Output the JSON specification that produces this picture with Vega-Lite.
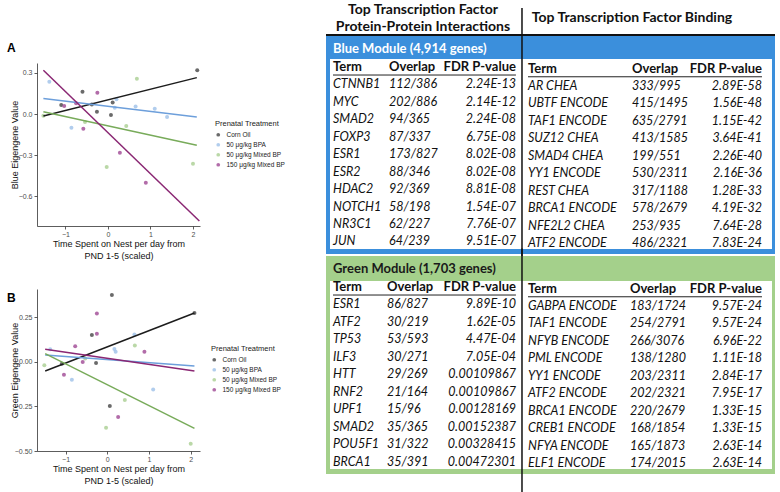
{
"$schema":"https://vega.github.io/schema/vega-lite/v6.json",
"background":"white",
"padding":{"left":7,"top":2,"right":4,"bottom":0},
"columns":2,
"spacing":{"row":63,"column":126},
"bounds":"flush",
"align":"each",
"resolve":{"scale":{"color":"independent"}},
"datasets":{
"ptsA":[
{"treatment":"Corn Oil","x":2.1,"y":0.32},{"treatment":"Corn Oil","x":-0.6,"y":0.163},{"treatment":"Corn Oil","x":-1.1,"y":0.066},{"treatment":"Corn Oil","x":-0.26,"y":0.017},{"treatment":"Corn Oil","x":0.11,"y":0.085},{"treatment":"Corn Oil","x":0.07,"y":-0.007},{"treatment":"Corn Oil","x":-0.38,"y":0.07},
{"treatment":"50 μg/kg BPA","x":-1.38,"y":0.236},{"treatment":"50 μg/kg BPA","x":0.2,"y":0.107},{"treatment":"50 μg/kg BPA","x":0.16,"y":0.046},{"treatment":"50 μg/kg BPA","x":0.65,"y":0.054},{"treatment":"50 μg/kg BPA","x":1.1,"y":0.039},{"treatment":"50 μg/kg BPA","x":1.39,"y":-0.022},{"treatment":"50 μg/kg BPA","x":-0.86,"y":-0.1},
{"treatment":"50 μg/kg Mixed BP","x":0.68,"y":0.258},{"treatment":"50 μg/kg Mixed BP","x":-1.52,"y":-0.012},{"treatment":"50 μg/kg Mixed BP","x":-0.54,"y":-0.059},{"treatment":"50 μg/kg Mixed BP","x":0.43,"y":-0.088},{"treatment":"50 μg/kg Mixed BP","x":-0.03,"y":-0.388},{"treatment":"50 μg/kg Mixed BP","x":2.0,"y":-0.364},
{"treatment":"150 μg/kg Mixed BP","x":-0.25,"y":0.156},{"treatment":"150 μg/kg Mixed BP","x":-1.03,"y":0.059},{"treatment":"150 μg/kg Mixed BP","x":-0.75,"y":0.078},{"treatment":"150 μg/kg Mixed BP","x":-0.58,"y":-0.107},{"treatment":"150 μg/kg Mixed BP","x":0.28,"y":-0.283},{"treatment":"150 μg/kg Mixed BP","x":0.89,"y":-0.502}
],
"fitA":[
{"treatment":"Corn Oil","x":-1.52,"y":-0.015},{"treatment":"Corn Oil","x":2.09,"y":0.266},
{"treatment":"50 μg/kg BPA","x":-1.52,"y":0.114},{"treatment":"50 μg/kg BPA","x":2.09,"y":-0.022},
{"treatment":"50 μg/kg Mixed BP","x":-1.52,"y":0.017},{"treatment":"50 μg/kg Mixed BP","x":2.09,"y":-0.229},
{"treatment":"150 μg/kg Mixed BP","x":-1.52,"y":0.32},{"treatment":"150 μg/kg Mixed BP","x":2.15,"y":-0.783}
],
"ptsB":[
{"treatment":"Corn Oil","x":0.11,"y":0.376},{"treatment":"Corn Oil","x":2.09,"y":0.275},{"treatment":"Corn Oil","x":-0.37,"y":0.152},{"treatment":"Corn Oil","x":-0.27,"y":-0.006},{"treatment":"Corn Oil","x":0.06,"y":-0.247},{"treatment":"Corn Oil","x":-1.09,"y":-0.01},
{"treatment":"50 μg/kg BPA","x":0.65,"y":0.155},{"treatment":"50 μg/kg BPA","x":0.17,"y":0.073},{"treatment":"50 μg/kg BPA","x":0.2,"y":0.058},{"treatment":"50 μg/kg BPA","x":-1.37,"y":0.071},{"treatment":"50 μg/kg BPA","x":-0.85,"y":-0.1},{"treatment":"50 μg/kg BPA","x":1.1,"y":-0.154},
{"treatment":"50 μg/kg Mixed BP","x":0.66,"y":0.092},{"treatment":"50 μg/kg Mixed BP","x":-1.51,"y":-0.019},{"treatment":"50 μg/kg Mixed BP","x":0.42,"y":-0.213},{"treatment":"50 μg/kg Mixed BP","x":-0.03,"y":-0.369},{"treatment":"50 μg/kg Mixed BP","x":2.0,"y":-0.459},{"treatment":"50 μg/kg Mixed BP","x":-0.53,"y":0.02},
{"treatment":"150 μg/kg Mixed BP","x":-0.25,"y":0.273},{"treatment":"150 μg/kg Mixed BP","x":-0.25,"y":0.159},{"treatment":"150 μg/kg Mixed BP","x":-0.77,"y":0.088},{"treatment":"150 μg/kg Mixed BP","x":0.89,"y":0.058},{"treatment":"150 μg/kg Mixed BP","x":-0.59,"y":0.0},{"treatment":"150 μg/kg Mixed BP","x":-1.04,"y":-0.071},{"treatment":"150 μg/kg Mixed BP","x":0.26,"y":-0.309}
],
"fitB":[
{"treatment":"Corn Oil","x":-1.49,"y":-0.051},{"treatment":"Corn Oil","x":2.09,"y":0.275},
{"treatment":"50 μg/kg BPA","x":-1.49,"y":0.039},{"treatment":"50 μg/kg BPA","x":2.09,"y":-0.022},
{"treatment":"50 μg/kg Mixed BP","x":-1.49,"y":0.047},{"treatment":"50 μg/kg Mixed BP","x":2.09,"y":-0.373},
{"treatment":"150 μg/kg Mixed BP","x":-1.49,"y":0.071},{"treatment":"150 μg/kg Mixed BP","x":2.09,"y":-0.051}
],
"tf":[
{"module":"Blue","side":"PPI","row":1,"term":"CTNNB1","overlap":"112/386","fdr":"2.24E-13"},
{"module":"Blue","side":"PPI","row":2,"term":"MYC","overlap":"202/886","fdr":"2.14E-12"},
{"module":"Blue","side":"PPI","row":3,"term":"SMAD2","overlap":"94/365","fdr":"2.24E-08"},
{"module":"Blue","side":"PPI","row":4,"term":"FOXP3","overlap":"87/337","fdr":"6.75E-08"},
{"module":"Blue","side":"PPI","row":5,"term":"ESR1","overlap":"173/827","fdr":"8.02E-08"},
{"module":"Blue","side":"PPI","row":6,"term":"ESR2","overlap":"88/346","fdr":"8.02E-08"},
{"module":"Blue","side":"PPI","row":7,"term":"HDAC2","overlap":"92/369","fdr":"8.81E-08"},
{"module":"Blue","side":"PPI","row":8,"term":"NOTCH1","overlap":"58/198","fdr":"1.54E-07"},
{"module":"Blue","side":"PPI","row":9,"term":"NR3C1","overlap":"62/227","fdr":"7.76E-07"},
{"module":"Blue","side":"PPI","row":10,"term":"JUN","overlap":"64/239","fdr":"9.51E-07"},
{"module":"Blue","side":"TFB","row":1,"term":"AR CHEA","overlap":"333/995","fdr":"2.89E-58"},
{"module":"Blue","side":"TFB","row":2,"term":"UBTF ENCODE","overlap":"415/1495","fdr":"1.56E-48"},
{"module":"Blue","side":"TFB","row":3,"term":"TAF1 ENCODE","overlap":"635/2791","fdr":"1.15E-42"},
{"module":"Blue","side":"TFB","row":4,"term":"SUZ12 CHEA","overlap":"413/1585","fdr":"3.64E-41"},
{"module":"Blue","side":"TFB","row":5,"term":"SMAD4 CHEA","overlap":"199/551","fdr":"2.26E-40"},
{"module":"Blue","side":"TFB","row":6,"term":"YY1 ENCODE","overlap":"530/2311","fdr":"2.16E-36"},
{"module":"Blue","side":"TFB","row":7,"term":"REST CHEA","overlap":"317/1188","fdr":"1.28E-33"},
{"module":"Blue","side":"TFB","row":8,"term":"BRCA1 ENCODE","overlap":"578/2679","fdr":"4.19E-32"},
{"module":"Blue","side":"TFB","row":9,"term":"NFE2L2 CHEA","overlap":"253/935","fdr":"7.64E-28"},
{"module":"Blue","side":"TFB","row":10,"term":"ATF2 ENCODE","overlap":"486/2321","fdr":"7.83E-24"},
{"module":"Green","side":"PPI","row":1,"term":"ESR1","overlap":"86/827","fdr":"9.89E-10"},
{"module":"Green","side":"PPI","row":2,"term":"ATF2","overlap":"30/219","fdr":"1.62E-05"},
{"module":"Green","side":"PPI","row":3,"term":"TP53","overlap":"53/593","fdr":"4.47E-04"},
{"module":"Green","side":"PPI","row":4,"term":"ILF3","overlap":"30/271","fdr":"7.05E-04"},
{"module":"Green","side":"PPI","row":5,"term":"HTT","overlap":"29/269","fdr":"0.00109867"},
{"module":"Green","side":"PPI","row":6,"term":"RNF2","overlap":"21/164","fdr":"0.00109867"},
{"module":"Green","side":"PPI","row":7,"term":"UPF1","overlap":"15/96","fdr":"0.00128169"},
{"module":"Green","side":"PPI","row":8,"term":"SMAD2","overlap":"35/365","fdr":"0.00152387"},
{"module":"Green","side":"PPI","row":9,"term":"POU5F1","overlap":"31/322","fdr":"0.00328415"},
{"module":"Green","side":"PPI","row":10,"term":"BRCA1","overlap":"35/391","fdr":"0.00472301"},
{"module":"Green","side":"TFB","row":1,"term":"GABPA ENCODE","overlap":"183/1724","fdr":"9.57E-24"},
{"module":"Green","side":"TFB","row":2,"term":"TAF1 ENCODE","overlap":"254/2791","fdr":"9.57E-24"},
{"module":"Green","side":"TFB","row":3,"term":"NFYB ENCODE","overlap":"266/3076","fdr":"6.96E-22"},
{"module":"Green","side":"TFB","row":4,"term":"PML ENCODE","overlap":"138/1280","fdr":"1.11E-18"},
{"module":"Green","side":"TFB","row":5,"term":"YY1 ENCODE","overlap":"203/2311","fdr":"2.84E-17"},
{"module":"Green","side":"TFB","row":6,"term":"ATF2 ENCODE","overlap":"202/2321","fdr":"7.95E-17"},
{"module":"Green","side":"TFB","row":7,"term":"BRCA1 ENCODE","overlap":"220/2679","fdr":"1.33E-15"},
{"module":"Green","side":"TFB","row":8,"term":"CREB1 ENCODE","overlap":"168/1854","fdr":"1.33E-15"},
{"module":"Green","side":"TFB","row":9,"term":"NFYA ENCODE","overlap":"165/1873","fdr":"2.63E-14"},
{"module":"Green","side":"TFB","row":10,"term":"ELF1 ENCODE","overlap":"174/2015","fdr":"2.63E-14"}
]
},
"concat":[
{
"width":163,"height":163,
"title":{"text":"A","anchor":"start","frame":"group","dx":-30,"offset":8,"fontSize":12,"fontWeight":"bold","font":"Liberation Sans","color":"#000"},
"encoding":{
"x":{"field":"x","type":"quantitative","scale":{"domain":[-1.67,2.165],"nice":false,"zero":false},"axis":{"values":[-1,0,1,2],"title":["Time Spent on Nest per day from","PND 1-5 (scaled)"]}},
"y":{"field":"y","type":"quantitative","scale":{"domain":[-0.819,0.373],"nice":false,"zero":false},"axis":{"values":[-0.6,-0.3,0,0.3],"format":".1f","title":"Blue Eigengene Value","titleX":-18}}
},
"layer":[
{"data":{"name":"ptsA"},"mark":{"type":"circle","size":16,"opacity":0.85},
"encoding":{"color":{"field":"treatment","type":"nominal","scale":{"domain":["Corn Oil","50 μg/kg BPA","50 μg/kg Mixed BP","150 μg/kg Mixed BP"],"range":["#505050","#a3c4ea","#aed198","#a4529a"]},
"legend":{"orient":"none","legendX":178,"legendY":57,"title":"Prenatal Treatment"}}}},
{"data":{"name":"fitA"},"mark":{"type":"line","strokeWidth":1.5},
"encoding":{"color":{"field":"treatment","type":"nominal","scale":{"domain":["Corn Oil","50 μg/kg BPA","50 μg/kg Mixed BP","150 μg/kg Mixed BP"],"range":["#1c1c1c","#6d9fdb","#78ab5a","#8a2773"]},"legend":null}}},
{"data":{"values":[{}]},"mark":{"type":"rule","color":"#333","strokeWidth":0.8},"encoding":{"x":{"datum":4.28},"y":{"datum":-0.146},"y2":{"datum":-0.322}}},
{"data":{"values":[{}]},"mark":{"type":"rule","color":"#333","strokeWidth":0.8},"encoding":{"x":{"datum":4.19},"x2":{"datum":4.28},"y":{"datum":-0.146}}},
{"data":{"values":[{}]},"mark":{"type":"rule","color":"#333","strokeWidth":0.8},"encoding":{"x":{"datum":4.19},"x2":{"datum":4.28},"y":{"datum":-0.322}}},
{"data":{"values":[{}]},"mark":{"type":"rule","color":"#333","strokeWidth":0.8},"encoding":{"x":{"datum":4.68},"y":{"datum":-0.146},"y2":{"datum":-0.395}}},
{"data":{"values":[{}]},"mark":{"type":"rule","color":"#333","strokeWidth":0.8},"encoding":{"x":{"datum":4.59},"x2":{"datum":4.68},"y":{"datum":-0.146}}},
{"data":{"values":[{}]},"mark":{"type":"rule","color":"#333","strokeWidth":0.8},"encoding":{"x":{"datum":4.59},"x2":{"datum":4.68},"y":{"datum":-0.395}}},
{"data":{"values":[{}]},"mark":{"type":"text","font":"Liberation Sans","fontSize":8,"color":"#222"},"encoding":{"x":{"datum":4.49},"y":{"datum":-0.234},"text":{"value":"*,+"}}},
{"data":{"values":[{}]},"mark":{"type":"text","font":"Liberation Sans","fontSize":8,"color":"#222"},"encoding":{"x":{"datum":4.89},"y":{"datum":-0.271},"text":{"value":"*,*"}}}
],
"resolve":{"scale":{"color":"independent"}}
},
{
"width":449,"height":163,
"data":{"name":"tf"},
"transform":[{"filter":"datum.module == 'Blue'"}],
"layer":[
{"data":{"values":[{}]},"mark":{"type":"rect","color":"#3b8fdc"},"encoding":{"x":{"datum":0,"type":"quantitative","scale":{"domain":[0,100],"nice":false,"zero":false},"axis":null},"x2":{"datum":100},"y":{"datum":-1.777,"type":"quantitative","scale":{"domain":[-0.229,9.112],"reverse":true,"nice":false,"zero":false},"axis":null},"y2":{"datum":10.716}}},
{"data":{"values":[{}]},"mark":{"type":"rect","color":"#ffffff"},"encoding":{"x":{"datum":0.89,"type":"quantitative"},"x2":{"datum":99.33},"y":{"datum":-0.458,"type":"quantitative"},"y2":{"datum":10.43}}},
{"data":{"values":[{}]},"mark":{"type":"rule","color":"#111","strokeWidth":2},"encoding":{"x":{"datum":0},"x2":{"datum":100},"y":{"datum":-1.834}}},
{"data":{"values":[{}]},"mark":{"type":"rule","color":"#111","strokeWidth":1.5},"encoding":{"x":{"datum":43.65},"y":{"datum":-3.38},"y2":{"datum":13.2}}},
{"data":{"values":[{}]},"mark":{"type":"text","font":"Lato","fontWeight":"bold","fontSize":14,"color":"#111"},"encoding":{"x":{"datum":21.6},"y":{"datum":-3.27},"text":{"value":"Top Transcription Factor"}}},
{"data":{"values":[{}]},"mark":{"type":"text","font":"Lato","fontWeight":"bold","fontSize":14,"color":"#111"},"encoding":{"x":{"datum":21.6},"y":{"datum":-2.29},"text":{"value":"Protein-Protein Interactions"}}},
{"data":{"values":[{}]},"mark":{"type":"text","font":"Lato","fontWeight":"bold","fontSize":14,"color":"#111"},"encoding":{"x":{"datum":68.15},"y":{"datum":-2.78},"text":{"value":"Top Transcription Factor Binding"}}},
{"data":{"values":[{}]},"mark":{"type":"text","font":"Lato","fontWeight":"bold","fontSize":13,"color":"#ffffff","align":"left"},"encoding":{"x":{"datum":1.56},"y":{"datum":-1.03},"text":{"value":"Blue Module (4,914 genes)"}}},
{"data":{"values":[{}]},"mark":{"type":"text","font":"Lato","fontWeight":"bold","fontSize":13,"color":"#111","align":"left"},"encoding":{"x":{"datum":1.56},"y":{"datum":0},"text":{"value":"Term"}}},
{"data":{"values":[{}]},"mark":{"type":"text","font":"Lato","fontWeight":"bold","fontSize":13,"color":"#111","align":"left"},"encoding":{"x":{"datum":14.03},"y":{"datum":0},"text":{"value":"Overlap"}}},
{"data":{"values":[{}]},"mark":{"type":"text","font":"Lato","fontWeight":"bold","fontSize":13,"color":"#111","align":"right"},"encoding":{"x":{"datum":42.3},"y":{"datum":0},"text":{"value":"FDR P-value"}}},
{"data":{"values":[{}]},"mark":{"type":"text","font":"Lato","fontWeight":"bold","fontSize":13,"color":"#111","align":"left"},"encoding":{"x":{"datum":44.99},"y":{"datum":0.1},"text":{"value":"Term"}}},
{"data":{"values":[{}]},"mark":{"type":"text","font":"Lato","fontWeight":"bold","fontSize":13,"color":"#111","align":"left"},"encoding":{"x":{"datum":68.15},"y":{"datum":0.1},"text":{"value":"Overlap"}}},
{"data":{"values":[{}]},"mark":{"type":"text","font":"Lato","fontWeight":"bold","fontSize":13,"color":"#111","align":"right"},"encoding":{"x":{"datum":97.1},"y":{"datum":0.1},"text":{"value":"FDR P-value"}}},
{"data":{"values":[{}]},"mark":{"type":"rule","color":"#222","strokeWidth":1},"encoding":{"x":{"datum":1.56},"x2":{"datum":42.3},"y":{"datum":0.46}}},
{"data":{"values":[{}]},"mark":{"type":"rule","color":"#222","strokeWidth":1},"encoding":{"x":{"datum":44.99},"x2":{"datum":97.1},"y":{"datum":0.56}}},
{"transform":[{"filter":"datum.side == 'PPI'"}],"mark":{"type":"text","font":"Lato","fontStyle":"italic","fontSize":12.5,"color":"#111","align":"left"},"encoding":{"x":{"datum":1.56},"y":{"field":"row","type":"quantitative"},"text":{"field":"term"}}},
{"transform":[{"filter":"datum.side == 'PPI'"}],"mark":{"type":"text","font":"Lato","fontStyle":"italic","fontSize":12.5,"color":"#111","align":"left"},"encoding":{"x":{"datum":14.03},"y":{"field":"row","type":"quantitative"},"text":{"field":"overlap"}}},
{"transform":[{"filter":"datum.side == 'PPI'"}],"mark":{"type":"text","font":"Lato","fontStyle":"italic","fontSize":12.5,"color":"#111","align":"right"},"encoding":{"x":{"datum":42.3},"y":{"field":"row","type":"quantitative"},"text":{"field":"fdr"}}},
{"transform":[{"filter":"datum.side == 'TFB'"}],"mark":{"type":"text","font":"Lato","fontStyle":"italic","fontSize":12.5,"color":"#111","align":"left","yOffset":1.5},"encoding":{"x":{"datum":44.99},"y":{"field":"row","type":"quantitative"},"text":{"field":"term"}}},
{"transform":[{"filter":"datum.side == 'TFB'"}],"mark":{"type":"text","font":"Lato","fontStyle":"italic","fontSize":12.5,"color":"#111","align":"left","yOffset":1.5},"encoding":{"x":{"datum":68.15},"y":{"field":"row","type":"quantitative"},"text":{"field":"overlap"}}},
{"transform":[{"filter":"datum.side == 'TFB'"}],"mark":{"type":"text","font":"Lato","fontStyle":"italic","fontSize":12.5,"color":"#111","align":"right","yOffset":1.5},"encoding":{"x":{"datum":97.1},"y":{"field":"row","type":"quantitative"},"text":{"field":"fdr"}}}
]
},
{
"width":163,"height":162,
"title":{"text":"B","anchor":"start","frame":"group","dx":-30,"offset":-16,"fontSize":12,"fontWeight":"bold","font":"Liberation Sans","color":"#000"},
"encoding":{
"x":{"field":"x","type":"quantitative","scale":{"domain":[-1.686,2.223],"nice":false,"zero":false},"axis":{"values":[-1,0,1,2],"title":["Time Spent on Nest per day from","PND 1-5 (scaled)"]}},
"y":{"field":"y","type":"quantitative","scale":{"domain":[-0.5,0.41],"nice":false,"zero":false},"axis":{"values":[-0.5,-0.25,0,0.25],"format":".2f","title":"Green Eigengene Value","titleX":-18}}
},
"layer":[
{"data":{"name":"ptsB"},"mark":{"type":"circle","size":16,"opacity":0.85},
"encoding":{"color":{"field":"treatment","type":"nominal","scale":{"domain":["Corn Oil","50 μg/kg BPA","50 μg/kg Mixed BP","150 μg/kg Mixed BP"],"range":["#505050","#a3c4ea","#aed198","#a4529a"]},
"legend":{"orient":"none","legendX":174,"legendY":56,"title":"Prenatal Treatment"}}}},
{"data":{"name":"fitB"},"mark":{"type":"line","strokeWidth":1.5},
"encoding":{"color":{"field":"treatment","type":"nominal","scale":{"domain":["Corn Oil","50 μg/kg BPA","50 μg/kg Mixed BP","150 μg/kg Mixed BP"],"range":["#1c1c1c","#6d9fdb","#78ab5a","#8a2773"]},"legend":null}}},
{"data":{"values":[{}]},"mark":{"type":"rule","color":"#333","strokeWidth":0.8},"encoding":{"x":{"datum":4.38},"y":{"datum":0.034},"y2":{"datum":-0.096}}},
{"data":{"values":[{}]},"mark":{"type":"rule","color":"#333","strokeWidth":0.8},"encoding":{"x":{"datum":4.29},"x2":{"datum":4.38},"y":{"datum":0.034}}},
{"data":{"values":[{}]},"mark":{"type":"rule","color":"#333","strokeWidth":0.8},"encoding":{"x":{"datum":4.29},"x2":{"datum":4.38},"y":{"datum":-0.096}}},
{"data":{"values":[{}]},"mark":{"type":"text","font":"Liberation Sans","fontSize":8,"color":"#222"},"encoding":{"x":{"datum":4.6},"y":{"datum":-0.028},"text":{"value":"*,*"}}}
],
"resolve":{"scale":{"color":"independent"}}
},
{
"width":449,"height":162,
"data":{"name":"tf"},
"transform":[{"filter":"datum.module == 'Green'"}],
"layer":[
{"data":{"values":[{}]},"mark":{"type":"rect","color":"#a4d08b"},"encoding":{"x":{"datum":0,"type":"quantitative","scale":{"domain":[0,100],"nice":false,"zero":false},"axis":null},"x2":{"datum":100},"y":{"datum":-1.776,"type":"quantitative","scale":{"domain":[0.115,9.398],"reverse":true,"nice":false,"zero":false},"axis":null},"y2":{"datum":10.716}}},
{"data":{"values":[{}]},"mark":{"type":"rect","color":"#ffffff"},"encoding":{"x":{"datum":0.89,"type":"quantitative"},"x2":{"datum":99.33},"y":{"datum":-0.344,"type":"quantitative"},"y2":{"datum":10.43}}},
{"data":{"values":[{}]},"mark":{"type":"rule","color":"#111","strokeWidth":1.5},"encoding":{"x":{"datum":43.65},"y":{"datum":-2.2},"y2":{"datum":11.8}}},
{"data":{"values":[{}]},"mark":{"type":"text","font":"Lato","fontWeight":"bold","fontSize":13,"color":"#1a1a1a","align":"left"},"encoding":{"x":{"datum":1.56},"y":{"datum":-1.03},"text":{"value":"Green Module (1,703 genes)"}}},
{"data":{"values":[{}]},"mark":{"type":"text","font":"Lato","fontWeight":"bold","fontSize":13,"color":"#111","align":"left"},"encoding":{"x":{"datum":1.56},"y":{"datum":0},"text":{"value":"Term"}}},
{"data":{"values":[{}]},"mark":{"type":"text","font":"Lato","fontWeight":"bold","fontSize":13,"color":"#111","align":"left"},"encoding":{"x":{"datum":13.6},"y":{"datum":0},"text":{"value":"Overlap"}}},
{"data":{"values":[{}]},"mark":{"type":"text","font":"Lato","fontWeight":"bold","fontSize":13,"color":"#111","align":"right"},"encoding":{"x":{"datum":42.3},"y":{"datum":0},"text":{"value":"FDR P-value"}}},
{"data":{"values":[{}]},"mark":{"type":"text","font":"Lato","fontWeight":"bold","fontSize":13,"color":"#111","align":"left"},"encoding":{"x":{"datum":44.99},"y":{"datum":0.1},"text":{"value":"Term"}}},
{"data":{"values":[{}]},"mark":{"type":"text","font":"Lato","fontWeight":"bold","fontSize":13,"color":"#111","align":"left"},"encoding":{"x":{"datum":67.7},"y":{"datum":0.1},"text":{"value":"Overlap"}}},
{"data":{"values":[{}]},"mark":{"type":"text","font":"Lato","fontWeight":"bold","fontSize":13,"color":"#111","align":"right"},"encoding":{"x":{"datum":97.1},"y":{"datum":0.1},"text":{"value":"FDR P-value"}}},
{"data":{"values":[{}]},"mark":{"type":"rule","color":"#222","strokeWidth":1},"encoding":{"x":{"datum":1.56},"x2":{"datum":42.3},"y":{"datum":0.46}}},
{"data":{"values":[{}]},"mark":{"type":"rule","color":"#222","strokeWidth":1},"encoding":{"x":{"datum":44.99},"x2":{"datum":97.1},"y":{"datum":0.56}}},
{"transform":[{"filter":"datum.side == 'PPI'"}],"mark":{"type":"text","font":"Lato","fontStyle":"italic","fontSize":12.5,"color":"#111","align":"left"},"encoding":{"x":{"datum":1.56},"y":{"field":"row","type":"quantitative"},"text":{"field":"term"}}},
{"transform":[{"filter":"datum.side == 'PPI'"}],"mark":{"type":"text","font":"Lato","fontStyle":"italic","fontSize":12.5,"color":"#111","align":"left"},"encoding":{"x":{"datum":13.6},"y":{"field":"row","type":"quantitative"},"text":{"field":"overlap"}}},
{"transform":[{"filter":"datum.side == 'PPI'"}],"mark":{"type":"text","font":"Lato","fontStyle":"italic","fontSize":12.5,"color":"#111","align":"right"},"encoding":{"x":{"datum":42.3},"y":{"field":"row","type":"quantitative"},"text":{"field":"fdr"}}},
{"transform":[{"filter":"datum.side == 'TFB'"}],"mark":{"type":"text","font":"Lato","fontStyle":"italic","fontSize":12.5,"color":"#111","align":"left","yOffset":1.5},"encoding":{"x":{"datum":44.99},"y":{"field":"row","type":"quantitative"},"text":{"field":"term"}}},
{"transform":[{"filter":"datum.side == 'TFB'"}],"mark":{"type":"text","font":"Lato","fontStyle":"italic","fontSize":12.5,"color":"#111","align":"left","yOffset":1.5},"encoding":{"x":{"datum":67.7},"y":{"field":"row","type":"quantitative"},"text":{"field":"overlap"}}},
{"transform":[{"filter":"datum.side == 'TFB'"}],"mark":{"type":"text","font":"Lato","fontStyle":"italic","fontSize":12.5,"color":"#111","align":"right","yOffset":1.5},"encoding":{"x":{"datum":97.1},"y":{"field":"row","type":"quantitative"},"text":{"field":"fdr"}}}
]
}
],
"config":{
"view":{"stroke":null},
"axis":{"grid":false,"domainColor":"#333","domainWidth":0.8,"tickColor":"#333","tickSize":3,"tickWidth":0.8,"labelColor":"#4d4d4d","labelFont":"Liberation Sans","labelFontSize":7,"labelPadding":2,"titleFont":"Liberation Sans","titleFontSize":9,"titleFontWeight":"normal","titleColor":"#111","titleLineHeight":12,"titlePadding":4},
"axisX":{"titlePadding":2,"labelPadding":1},
"legend":{"titleFont":"Liberation Sans","labelFont":"Liberation Sans","titleFontSize":7.5,"labelFontSize":6.5,"titleFontWeight":"normal","titleColor":"#222","labelColor":"#222","symbolType":"circle","symbolSize":14,"rowPadding":3,"titlePadding":4,"labelOffset":5}
}
}
